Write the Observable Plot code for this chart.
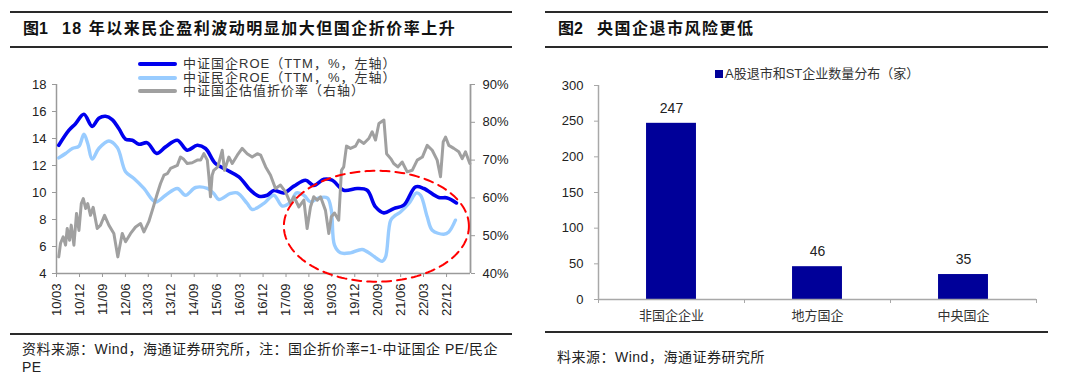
<!DOCTYPE html>
<html><head><meta charset="utf-8">
<script src="https://cdn.jsdelivr.net/npm/d3@7"></script>
<script src="https://cdn.jsdelivr.net/npm/@observablehq/plot@0.6"></script>
<style>
html,body{margin:0;padding:0;background:#fff;}
body{width:1080px;height:380px;position:relative;overflow:hidden;font-family:"Liberation Sans",Arial,"Noto Sans CJK SC",sans-serif;color:#222;}
.rule{position:absolute;height:2px;background:#2a2a2a;}
.title{position:absolute;font-size:16px;font-weight:bold;line-height:20px;white-space:nowrap;color:#111;}
.title .t{letter-spacing:1.5px;}
.src{position:absolute;font-size:14px;line-height:18px;letter-spacing:0.5px;color:#222;white-space:nowrap;}
.chart{position:absolute;}
.leg{position:absolute;font-size:13px;line-height:14px;color:#333;white-space:nowrap;letter-spacing:1px;}
.sw{position:absolute;height:4px;border-radius:2px;}
</style>
</head><body>
<div class="rule" style="left:10px;top:11px;width:502px"></div>
<div class="rule" style="left:10px;top:46px;width:502px"></div>
<div class="title" style="left:23px;top:19px"><span>图1</span><span class="t" style="margin-left:14px">18 年以来民企盈利波动明显加大但国企折价率上升</span></div>
<div class="rule" style="left:10px;top:333px;width:502px"></div>
<div class="src" style="left:22px;top:340px">资料来源：Wind，海通证券研究所，注：国企折价率=1-中证国企 PE/民企<br>PE</div>

<div class="rule" style="left:545px;top:11px;width:503px"></div>
<div class="rule" style="left:545px;top:46px;width:503px"></div>
<div class="title" style="left:558px;top:19px"><span>图2</span><span class="t" style="margin-left:14px">央国企退市风险更低</span></div>
<div class="rule" style="left:545px;top:331px;width:503px"></div>
<div class="src" style="left:557px;top:348px">料来源：Wind，海通证券研究所</div>

<div id="left" class="chart" style="left:0;top:55px"></div>
<div id="right" class="chart" style="left:540px;top:60px"></div>
<div id="legL"></div>
<div id="legR"></div>

<script>
// ---------- Figure 1 data ----------
const soeRoeDates = ["2010-03-28","2010-07-26","2010-10-14","2011-01-22","2011-05-01","2011-07-19","2011-10-07","2011-12-26","2012-03-14","2012-06-03","2012-08-22","2012-11-10","2013-02-18","2013-06-08","2013-09-24","2014-02-11","2014-06-09","2014-10-07","2015-01-14","2015-05-12","2015-09-30","2016-02-16","2016-07-04","2016-10-11","2017-01-20","2017-04-08","2017-08-06","2017-12-04","2018-04-22","2018-07-29","2018-11-27","2019-03-05","2019-07-22","2019-12-30","2020-04-27","2020-08-05","2020-11-13","2021-03-10","2021-07-08","2021-11-26","2022-03-04","2022-08-30","2022-12-09","2023-03-29"];
const soeRoeValues = [13.5,14.6,15.1,15.8,14.9,15.5,15.65,15.4,14.74,13.95,13.87,13.58,13.68,12.9,13.38,13.87,13.13,13.5,13.26,12.15,11.65,11.16,10.17,9.73,9.8,10.15,9.97,10.47,10.91,10.52,10.98,10.91,10.17,10.3,10.17,8.93,8.49,8.81,9.06,10.42,10.3,9.63,9.6,9.23];

const poeRoeDates = ["2010-03-28","2010-06-17","2010-09-06","2010-11-24","2011-01-22","2011-03-09","2011-05-01","2011-07-19","2011-11-16","2012-02-25","2012-06-03","2012-09-11","2013-01-08","2013-05-26","2013-09-24","2014-02-11","2014-05-19","2014-09-17","2015-02-04","2015-04-22","2015-06-21","2015-11-09","2016-01-28","2016-05-25","2016-07-24","2016-12-11","2017-04-08","2017-07-17","2017-10-25","2018-01-05","2018-04-02","2018-06-20","2018-09-28","2019-01-07","2019-02-24","2019-04-03","2019-06-13","2019-10-11","2020-02-28","2020-06-26","2020-10-24","2020-12-03","2021-02-02","2021-04-01","2021-05-30","2021-09-07","2021-12-08","2022-01-25","2022-04-14","2022-06-13","2022-10-29","2022-12-28","2023-03-17"];
const poeRoeValues = [12.56,12.89,13.26,13.43,14.32,13.63,12.47,13.26,13.82,13.33,11.53,11.04,10.3,9.3,9.8,10.3,9.8,10.37,10.3,9.93,9.48,9.93,9.97,9.19,8.74,9.19,9.8,9.0,9.3,9.97,9.8,9.3,9.6,9.6,8.69,6.1,5.53,5.53,5.78,5.36,4.91,5.23,7.95,8.32,8.56,9.19,9.97,9.8,8.2,7.21,6.91,7.08,7.95];

const discountDates = ["2010-03-28","2010-04-18","2010-05-20","2010-06-17","2010-07-07","2010-08-04","2010-08-24","2010-09-25","2010-10-26","2010-11-24","2010-12-22","2011-01-15","2011-02-12","2011-03-09","2011-04-11","2011-05-13","2011-06-30","2011-08-09","2011-09-26","2011-11-16","2012-01-15","2012-03-02","2012-04-24","2012-06-03","2012-08-02","2012-09-30","2012-11-29","2013-01-08","2013-03-07","2013-04-29","2013-06-16","2013-07-25","2013-09-04","2013-10-14","2013-11-22","2014-01-01","2014-02-11","2014-03-20","2014-04-29","2014-06-09","2014-08-08","2014-10-07","2014-11-16","2014-12-25","2015-02-04","2015-02-23","2015-03-14","2015-04-03","2015-04-22","2015-06-09","2015-08-01","2015-08-28","2015-10-19","2015-11-29","2016-01-28","2016-03-26","2016-05-25","2016-07-24","2016-09-23","2016-11-02","2017-01-01","2017-02-28","2017-04-28","2017-06-27","2017-08-26","2017-10-25","2017-12-04","2018-02-02","2018-04-02","2018-05-11","2018-06-20","2018-07-29","2018-09-09","2018-10-18","2018-12-16","2019-01-25","2019-02-24","2019-04-03","2019-05-23","2019-06-25","2019-07-22","2019-08-24","2019-10-11","2019-12-10","2020-01-19","2020-03-18","2020-05-16","2020-06-26","2020-08-05","2020-09-14","2020-11-13","2020-12-15","2021-02-02","2021-03-10","2021-04-28","2021-06-19","2021-08-18","2021-10-17","2021-12-16","2022-02-15","2022-04-14","2022-06-13","2022-08-11","2022-09-20","2022-10-22","2022-11-19","2022-12-28","2023-02-26","2023-04-26","2023-06-06","2023-07-15","2023-09-05"];
const discountValues = [44.4,48.0,49.7,47.5,51.9,48.8,52.8,47.5,55.9,51.4,58.5,59.8,57.2,58.5,55.4,57.5,51.9,52.8,55.4,52.8,50.6,44.4,50.6,48.4,50.6,52.3,53.2,51.0,53.7,57.5,61.1,63.8,66.0,66.4,67.8,68.2,68.6,70.8,70.2,69.1,69.3,70.0,70.0,71.7,70.0,65.6,60.3,66.0,67.3,68.2,72.6,67.3,70.8,69.1,71.3,73.1,71.7,70.8,71.7,71.3,68.2,66.0,62.5,63.4,61.6,58.5,60.3,57.6,59.4,51.9,57.6,60.3,59.4,60.3,56.7,50.6,55.0,56.0,54.1,67.3,68.2,73.7,73.1,73.7,75.3,74.4,75.7,77.5,75.3,79.7,80.6,71.7,70.4,69.1,68.2,69.5,66.9,67.3,70.0,70.8,73.9,72.6,70.0,65.6,74.8,76.1,73.9,73.1,72.2,70.4,72.2,69.1];

const xTickDates = ["2010-03-01","2010-12-01","2011-09-01","2012-06-01","2013-03-01","2013-12-01","2014-09-01","2015-06-01","2016-03-01","2016-12-01","2017-09-01","2018-06-01","2019-03-01","2019-12-01","2020-09-01","2021-06-01","2022-03-01","2022-12-01"];
const xTickLabels = ["10/03","10/12","11/09","12/06","13/03","13/12","14/09","15/06","16/03","16/12","17/09","18/06","19/03","19/12","20/09","21/06","22/03","22/12"];
const leftTicks = [4,6,8,10,12,14,16,18];
const rightTicks = [40,50,60,70,80,90];
const seriesNames = ["中证国企ROE（TTM，%，左轴）","中证民企ROE（TTM，%，左轴）","中证国企估值折价率（右轴）"];
const seriesColors = ["#0000EE","#99CCFF","#A0A0A0"];

// highlight ellipse (annotation) in data space
const ellipseCenterDate = "2020-08-15", ellipseCenterY = 7.5, ellipseRxDays = 1105, ellipseRy = 4.11;

// ---------- Figure 2 data ----------
const barCats = ["非国企企业","地方国企","中央国企"];
const barCounts = [247,46,35];
const barTicks = [0,50,100,150,200,250,300];
const barLegend = "A股退市和ST企业数量分布（家）";
const barColor = "#000099";

// ---------- build ----------
const parse = s => new Date(s);
const toLeft = p => 4 + (p - 40) * 14 / 50;
const soe = d3.zip(soeRoeDates, soeRoeValues).map(([d, v]) => ({date: parse(d), v}));
const poe = d3.zip(poeRoeDates, poeRoeValues).map(([d, v]) => ({date: parse(d), v}));
const disc = d3.zip(discountDates, discountValues).map(([d, v]) => ({date: parse(d), v: toLeft(v)}));
const xTicks = xTickDates.map(parse);
const xLabelMap = new Map(xTicks.map((d, i) => [+d, xTickLabels[i]]));
const xDomain = [parse("2010-03-01"), parse("2023-09-13")];

const c0 = +parse(ellipseCenterDate);
const ell = d3.range(0, 181).map(k => {
  const a = k / 180 * 2 * Math.PI;
  return {date: new Date(c0 + Math.cos(a) * ellipseRxDays * 864e5), v: ellipseCenterY + Math.sin(a) * ellipseRy};
});

const axisStyle = {fontFamily: "Liberation Sans, Arial, sans-serif", fontSize: "13px", color: "#222", background: "transparent", overflow: "visible"};

const left = Plot.plot({
  width: 530, height: 290,
  marginLeft: 56, marginRight: 60, marginTop: 29, marginBottom: 72,
  style: axisStyle,
  x: {type: "utc", domain: xDomain},
  y: {domain: [4, 18]},
  marks: [
    Plot.ruleX([xDomain[0]], {stroke: "#9a9a9a", strokeWidth: 1.5}),
    Plot.ruleX([xDomain[1]], {stroke: "#9a9a9a", strokeWidth: 1.8}),
    Plot.ruleY([4], {stroke: "#9a9a9a", strokeWidth: 1.5}),
    Plot.axisY(leftTicks, {anchor: "left", tickSize: 4, tickPadding: 6, stroke: "#9a9a9a", label: null}),
    Plot.axisY(rightTicks.map(toLeft), {anchor: "right", tickSize: 4, tickPadding: 8, stroke: "#9a9a9a", label: null,
      tickFormat: d => Math.round(40 + (d - 4) * 50 / 14) + "%"}),
    Plot.axisX(xTicks, {tickSize: 4, tickPadding: 6, tickRotate: -90, stroke: "#9a9a9a", label: null,
      tickFormat: d => xLabelMap.get(+d)}),
    Plot.line(poe, {x: "date", y: "v", stroke: seriesColors[1], strokeWidth: 3.4, curve: "catmull-rom"}),
    Plot.line(soe, {x: "date", y: "v", stroke: seriesColors[0], strokeWidth: 3.6, curve: "catmull-rom"}),
    Plot.line(disc, {x: "date", y: "v", stroke: seriesColors[2], strokeWidth: 3, strokeLinejoin: "round"}),
    Plot.line(ell, {x: "date", y: "v", stroke: "#FF0000", strokeWidth: 2, strokeDasharray: "9,6"})
  ]
});
document.getElementById("left").appendChild(left);

// left legend
const legL = document.getElementById("legL");
seriesNames.forEach((name, i) => {
  const y = 64 + i * 13.7;
  const sw = document.createElement("div");
  sw.className = "sw";
  sw.style.cssText = `left:138px;top:${y - 2}px;width:39px;background:${seriesColors[i]}`;
  legL.appendChild(sw);
  const t = document.createElement("div");
  t.className = "leg";
  t.style.cssText = `left:183px;top:${y - 7}px`;
  t.textContent = name;
  legL.appendChild(t);
});

// right chart
const barData = barCats.map((c, i) => ({i, cat: c, value: barCounts[i]}));
const barHalf = 0.171;
const right = Plot.plot({
  width: 510, height: 270,
  marginLeft: 58, marginRight: 14, marginTop: 25, marginBottom: 31,
  style: axisStyle,
  x: {domain: [0, barCats.length]},
  y: {domain: [0, 300]},
  marks: [
    Plot.rectY(barData, {x1: d => d.i + 0.5 - barHalf, x2: d => d.i + 0.5 + barHalf, y: "value", fill: barColor}),
    Plot.ruleX([0], {stroke: "#a8a8a8", strokeWidth: 1.5}),
    Plot.ruleY([0], {stroke: "#a8a8a8", strokeWidth: 1.5}),
    Plot.axisY(barTicks, {tickSize: 4, tickPadding: 11, stroke: "#a8a8a8", label: null}),
    Plot.axisX(d3.range(0, barCats.length + 1), {tickSize: 4, stroke: "#a8a8a8", tickFormat: () => "", label: null}),
    Plot.axisX(barData.map(d => d.i + 0.5), {tickSize: 0, tickPadding: 11, label: null,
      tickFormat: d => barCats[Math.floor(d)], fontFamily: "Noto Sans CJK SC", fontSize: 13, fill: "#333"}),
    Plot.text(barData, {x: d => d.i + 0.5, y: "value", text: d => String(d.value), dy: -15, fontSize: 14, fill: "#222"})
  ]
});
document.getElementById("right").appendChild(right);

// right legend
const legR = document.getElementById("legR");
legR.innerHTML = `<div style="position:absolute;left:715px;top:70px;width:8px;height:8px;background:${barColor}"></div>` +
  `<div class="leg" style="left:725px;top:67px;letter-spacing:0">${barLegend}</div>`;
</script>
</body></html>
